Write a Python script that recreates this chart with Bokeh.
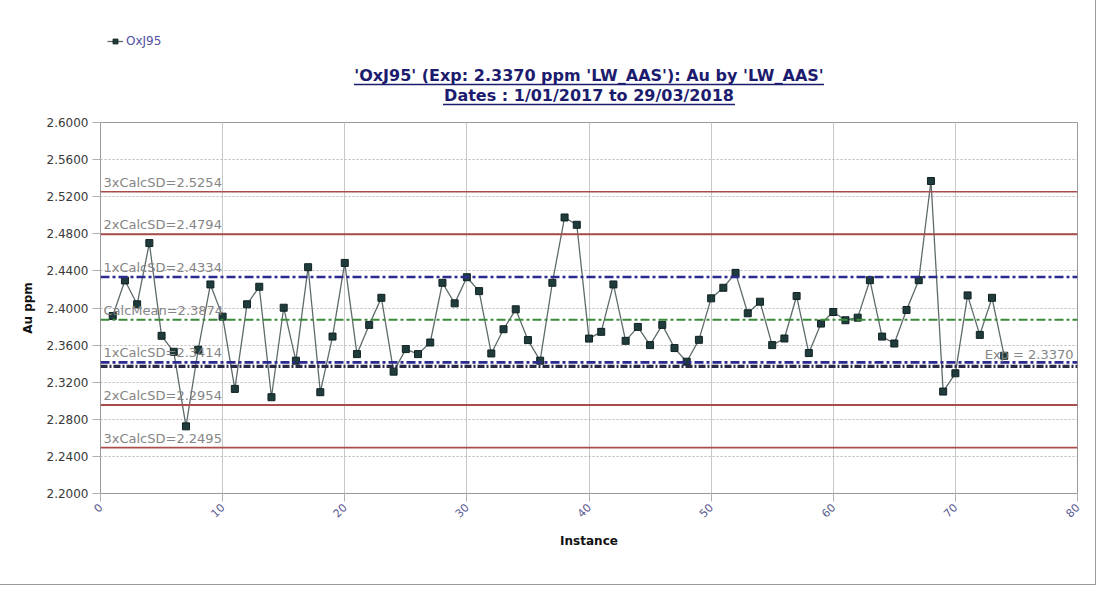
from bokeh.plotting import figure
from bokeh.layouts import column
from bokeh.models import (FixedTicker, NumeralTickFormatter, Span, Label,
                          Legend, LegendItem, ColumnDataSource, Range1d)
from bokeh.embed import file_html
from bokeh.resources import INLINE
import math

instance = list(range(1, 75))
au_ppm = [2.3914, 2.4297, 2.4040, 2.4700, 2.3700, 2.3528, 2.2724, 2.3550, 2.4254, 2.3907,
          2.3128, 2.4040, 2.4229, 2.3038, 2.4003, 2.3432, 2.4440, 2.3092, 2.3692, 2.4486,
          2.3503, 2.3818, 2.4110, 2.3314, 2.3557, 2.3503, 2.3628, 2.4272, 2.4050, 2.4332,
          2.4182, 2.3510, 2.3771, 2.3986, 2.3654, 2.3432, 2.4272, 2.4976, 2.4897, 2.3670,
          2.3743, 2.4254, 2.3646, 2.3796, 2.3600, 2.3818, 2.3568, 2.3421, 2.3657, 2.4104,
          2.4218, 2.4379, 2.3943, 2.4068, 2.3600, 2.3671, 2.4129, 2.3514, 2.3832, 2.3957,
          2.3868, 2.3896, 2.4300, 2.3692, 2.3617, 2.3979, 2.4300, 2.5369, 2.3099, 2.3296,
          2.4136, 2.3710, 2.4110, 2.3485]

control_names = ["3xCalcSD", "2xCalcSD", "1xCalcSD", "CalcMean", "1xCalcSD", "2xCalcSD", "3xCalcSD"]
control_values = [2.5254, 2.4794, 2.4334, 2.3874, 2.3414, 2.2954, 2.2495]
expected_value = 2.3370

y_ticks = [2.20, 2.24, 2.28, 2.32, 2.36, 2.40, 2.44, 2.48, 2.52, 2.56, 2.60]
x_ticks = [0, 10, 20, 30, 40, 50, 60, 70, 80]

title_line1 = "'OxJ95' (Exp: 2.3370 ppm 'LW_AAS'): Au by 'LW_AAS'"
title_line2 = "Dates : 1/01/2017 to 29/03/2018"
series_name = "OxJ95"

FONT = "DejaVu Sans"
TITLE_COLOR = "#1c1c6e"
W = 1095
HEAD_H = 110
MAIN_H = 474
FRAME_LEFT = 100
FRAME_W = 977
FRAME_H = 371
MAIN_TOP = 12
CX = FRAME_LEFT + FRAME_W / 2

src = ColumnDataSource(dict(x=instance, y=au_ppm))
LINE_STYLE = dict(line_color="#5f6b6b", line_width=1.3)
PT_STYLE = dict(marker="square", size=7, fill_color="#1f3b3b", line_color="#102222", line_width=1)

# ---------------- header (legend + underlined titles) ----------------
# its frame lines up with the chart's frame (x 100..1077 on the canvas)
head = figure(width=W, height=HEAD_H,
              x_range=Range1d(FRAME_LEFT, FRAME_LEFT + FRAME_W), y_range=Range1d(-HEAD_H, 0),
              output_backend="svg", toolbar_location=None, min_border=0,
              min_border_left=FRAME_LEFT, min_border_right=W - FRAME_LEFT - FRAME_W,
              x_axis_location=None, y_axis_location=None)
head.outline_line_color = None
head.grid.visible = False
head.background_fill_color = "white"
head.border_fill_color = "white"

# same series, kept out of this header's view: only its legend icon shows
h_line = head.line("x", "y", source=src, **LINE_STYLE)
h_pts = head.scatter("x", "y", source=src, **PT_STYLE)
legend = Legend(items=[LegendItem(label=series_name, renderers=[h_line, h_pts])],
                location=(7, HEAD_H - 48), orientation="horizontal",
                border_line_alpha=0, background_fill_alpha=0,
                label_text_font=FONT, label_text_font_size="12px", label_text_color="#5050a0",
                glyph_width=16, glyph_height=12, label_height=12, padding=0, margin=0,
                label_standoff=3)
head.add_layout(legend, "center")

title_rows = [(title_line1, -75, 235), (title_line2, -95, 146)]
for txt, yy, half in title_rows:
    head.add_layout(Label(x=CX, y=yy, text=txt, text_align="center", text_baseline="middle",
                          text_font=FONT, text_font_size="16px", text_font_style="bold",
                          text_color=TITLE_COLOR))
head.segment(x0=[CX - r[2] for r in title_rows], y0=[r[1] - 9 for r in title_rows],
             x1=[CX + r[2] for r in title_rows], y1=[r[1] - 9 for r in title_rows],
             line_color=TITLE_COLOR, line_width=1.3)

# ---------------- main chart ----------------
p = figure(width=W, height=MAIN_H, x_range=Range1d(0, 80), y_range=Range1d(2.2, 2.6),
           output_backend="svg", toolbar_location=None,
           min_border_left=FRAME_LEFT, min_border_right=W - FRAME_LEFT - FRAME_W,
           min_border_top=MAIN_TOP, min_border_bottom=MAIN_H - MAIN_TOP - FRAME_H)
p.outline_line_color = "#9a9a9a"
p.outline_line_width = 1
p.background_fill_color = "white"
p.border_fill_color = "white"

p.yaxis.ticker = FixedTicker(ticks=y_ticks)
p.yaxis.formatter = NumeralTickFormatter(format="0.0000")
p.xaxis.ticker = FixedTicker(ticks=x_ticks)
for ax in (p.xaxis[0], p.yaxis[0]):
    ax.axis_line_color = None
    ax.major_tick_line_color = "#b0b0b0"
    ax.minor_tick_line_color = None
    ax.major_tick_in = 0
    ax.major_tick_out = 8
    ax.major_label_text_font = FONT
    ax.axis_label_text_font = FONT
    ax.axis_label_text_font_style = "bold"
    ax.axis_label_text_font_size = "12px"
    ax.axis_label_text_color = "#111111"
p.yaxis.major_label_text_font_size = "12px"
p.xaxis.major_label_text_font_size = "11px"
p.yaxis.major_label_text_color = "#3a3a3a"
p.xaxis.major_label_text_color = "#5a5a90"
p.yaxis.major_label_standoff = 4
p.xaxis.major_label_orientation = math.pi / 4
p.xaxis.major_label_standoff = 4
p.yaxis.axis_label = "Au ppm"
p.yaxis.axis_label_standoff = 9
p.xaxis.axis_label = "Instance"
p.xaxis.axis_label_standoff = 10

p.xgrid.ticker = FixedTicker(ticks=x_ticks)
p.xgrid.grid_line_color = "#c8c8c8"
p.xgrid.grid_line_width = 1
p.ygrid.ticker = FixedTicker(ticks=y_ticks)
p.ygrid.grid_line_color = "#b8b8b8"
p.ygrid.grid_line_dash = "2 2"
p.ygrid.grid_line_width = 1

RED = "#a84c4c"
BLUE = "#2b2b8f"
GREEN = "#3a8a3a"
styles = {
    "3xCalcSD": dict(line_color=RED, line_width=1.6, line_dash="solid"),
    "2xCalcSD": dict(line_color=RED, line_width=2.0, line_dash="solid"),
    "1xCalcSD": dict(line_color=BLUE, line_width=2.6, line_dash="9 3 3 3"),
    "CalcMean": dict(line_color=GREEN, line_width=2.0, line_dash="9 3 3 3"),
}
for name, v in zip(control_names, control_values):
    p.add_layout(Span(location=v, dimension="width", **styles[name]))
p.add_layout(Span(location=expected_value, dimension="width", line_color="#2a2a44",
                  line_width=3.2, line_dash="7 2 2 2"))

for name, v in zip(control_names, control_values):
    p.add_layout(Label(x=0, y=v, x_offset=3, y_offset=2, text=f"{name}={v:.4f}",
                       text_font=FONT, text_font_size="13px", text_color="#858585",
                       text_baseline="bottom"))
p.add_layout(Label(x=80, y=expected_value, x_offset=-4, y_offset=4,
                   text=f"Exp = {expected_value:.4f}", text_align="right",
                   text_font=FONT, text_font_size="13px", text_color="#858585",
                   text_baseline="bottom"))

p.line("x", "y", source=src, **LINE_STYLE)
p.scatter("x", "y", source=src, **PT_STYLE)

layout = column(head, p, spacing=0)
layout.styles = {"outline": "1px solid #9a9a9a"}

open("out.html", "w").write(file_html(layout, INLINE))
